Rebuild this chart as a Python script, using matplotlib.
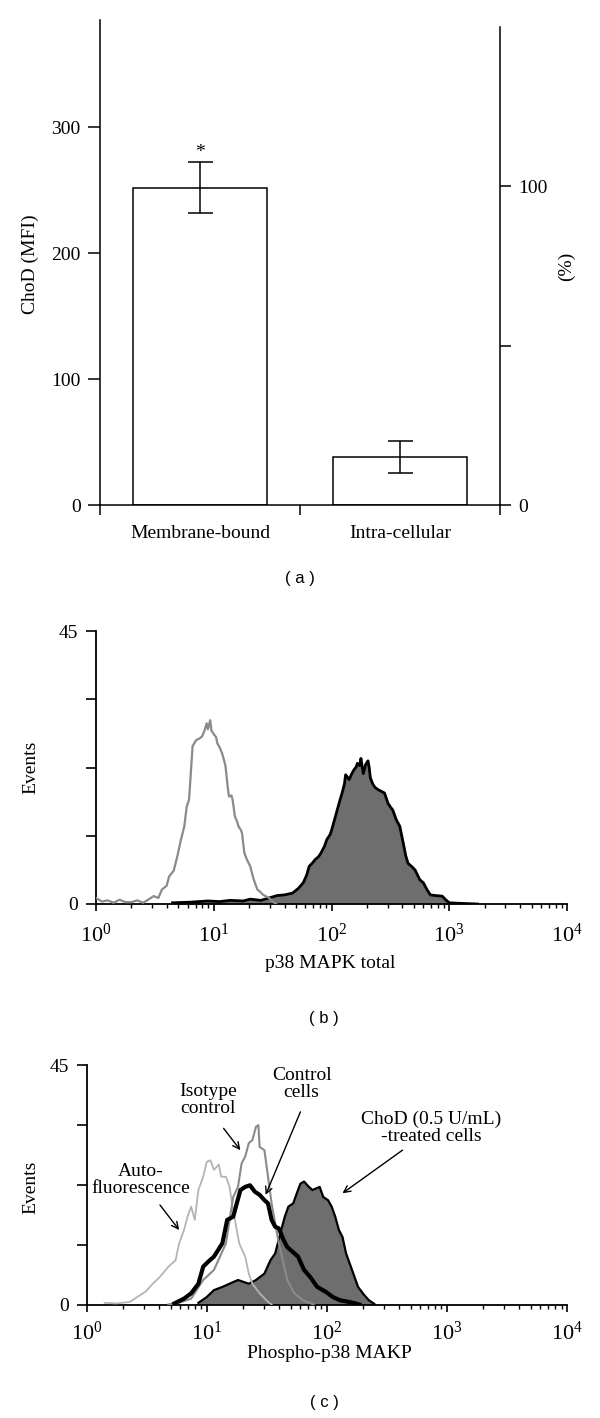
import numpy as np
import matplotlib
matplotlib.use("Agg")
import matplotlib.pyplot as plt

plt.rcParams['font.family'] = ['Liberation Serif', 'DejaVu Serif']
plt.rcParams['mathtext.fontset'] = 'stix'

# ---------------- Panel (a) data ----------------
categories = ["Membrane-bound", "Intra-cellular"]
mfi_values = [252, 38.5]
mfi_errors = [20, 13]
left_ticks = [0, 100, 200, 300]
right_ticks = [0, 50, 100]
right_ticklabels = ["0", "", "100"]

# ---------------- Panel (b) data (log10 intensity, events) ----------------
b_iso_logx = [0.00, 0.05, 0.10, 0.15, 0.20, 0.25, 0.30, 0.35, 0.40, 0.45, 0.49, 0.53, 0.56, 0.60, 0.62, 0.66,
              0.69, 0.72, 0.75, 0.77, 0.79, 0.80, 0.82, 0.85, 0.88, 0.90, 0.92, 0.94, 0.95, 0.97, 0.98, 1.00,
              1.02, 1.03, 1.05, 1.07, 1.09, 1.10, 1.12, 1.13, 1.15, 1.16, 1.18, 1.20, 1.21, 1.23, 1.24, 1.26,
              1.28, 1.31, 1.34, 1.37, 1.40, 1.42, 1.45, 1.47, 1.50, 1.53]
b_iso_y = [1.0, 0.4, 0.6, 0.2, 0.7, 0.3, 0.3, 0.6, 0.2, 0.8, 1.3, 1.0, 2.4, 3.0, 4.5, 5.5,
           7.8, 10.5, 12.8, 16.0, 17.2, 20.0, 26.0, 27.0, 27.3, 27.6, 28.5, 29.8, 28.8, 30.3, 28.6, 28.0,
           27.5, 26.5, 25.8, 24.9, 23.5, 22.7, 19.0, 17.7, 17.9, 17.2, 14.4, 13.5, 12.8, 12.2, 11.7, 8.4,
           7.4, 6.2, 4.0, 2.4, 1.9, 1.5, 1.2, 1.0, 0.4, 0.0]

b_treat_logx = [0.65, 0.80, 0.95, 1.05, 1.14, 1.25, 1.31, 1.40, 1.47, 1.54, 1.60, 1.67, 1.72, 1.76, 1.79, 1.81,
                1.84, 1.86, 1.89, 1.91, 1.94, 1.96, 1.99, 2.01, 2.03, 2.05, 2.07, 2.09, 2.11, 2.12, 2.14, 2.15,
                2.17, 2.19, 2.21, 2.22, 2.24, 2.25, 2.27, 2.29, 2.31, 2.32, 2.33, 2.35, 2.37, 2.40, 2.43, 2.45,
                2.48, 2.50, 2.52, 2.55, 2.58, 2.61, 2.63, 2.65, 2.68, 2.71, 2.75, 2.78, 2.81, 2.84, 2.88, 2.94,
                2.97, 3.00, 3.10, 3.24]
b_treat_y = [0.2, 0.3, 0.5, 0.4, 0.6, 0.5, 0.8, 0.6, 1.0, 1.4, 1.5, 1.8, 2.6, 3.5, 4.8, 6.2,
             6.8, 7.3, 7.8, 8.4, 9.5, 10.6, 11.5, 12.8, 14.2, 15.6, 17.0, 18.3, 19.8, 21.3, 20.8, 20.5,
             21.4, 22.1, 22.6, 23.2, 22.8, 24.0, 21.5, 23.0, 23.6, 22.5, 20.8, 19.8, 19.2, 18.8, 18.5, 18.3,
             16.6, 16.0, 15.5, 13.9, 12.8, 10.0, 8.0, 6.7, 6.2, 5.6, 4.0, 3.5, 2.4, 1.5, 1.4, 1.3,
             0.7, 0.2, 0.1, 0.0]

# ---------------- Panel (c) data (log10 intensity, events) ----------------
c_auto_logx = [0.15, 0.25, 0.36, 0.42, 0.49, 0.55, 0.61, 0.68, 0.74, 0.77, 0.81, 0.84, 0.87, 0.90, 0.93, 0.97,
               1.00, 1.03, 1.06, 1.10, 1.12, 1.16, 1.19, 1.21, 1.24, 1.27, 1.32, 1.35, 1.38, 1.44, 1.51, 1.54]
c_auto_y = [0.3, 0.2, 0.5, 1.4, 2.4, 3.9, 5.2, 7.1, 8.3, 11.5, 14.0, 16.5, 18.4, 15.9, 21.5, 24.0,
            26.8, 27.1, 25.3, 26.3, 24.0, 24.0, 22.1, 19.0, 15.2, 11.5, 9.0, 5.8, 3.9, 2.1, 0.5, 0.0]

c_iso_logx = [0.68, 0.78, 0.87, 0.97, 1.06, 1.16, 1.22, 1.26, 1.29, 1.32, 1.35, 1.38, 1.41, 1.43, 1.44, 1.48,
              1.51, 1.54, 1.57, 1.60, 1.64, 1.67, 1.73, 1.80, 1.89]
c_iso_y = [0.0, 0.4, 1.1, 4.6, 6.5, 11.5, 20.2, 22.1, 26.5, 27.8, 30.3, 30.9, 33.4, 33.7, 29.6, 29.0,
           24.0, 19.0, 15.2, 11.5, 7.7, 4.6, 2.1, 0.8, 0.0]

c_ctrl_logx = [0.73, 0.81, 0.87, 0.93, 0.97, 1.01, 1.06, 1.13, 1.17, 1.22, 1.25, 1.28, 1.32, 1.36, 1.40, 1.44,
               1.48, 1.51, 1.54, 1.57, 1.60, 1.64, 1.67, 1.70, 1.76, 1.81, 1.86, 1.92, 1.99, 2.05, 2.11, 2.18,
               2.24, 2.27]
c_ctrl_y = [0.2, 1.1, 2.1, 3.9, 7.1, 8.0, 9.0, 11.5, 15.9, 16.5, 19.0, 21.5, 22.1, 22.4, 21.2, 20.6,
            19.6, 19.0, 15.9, 14.6, 14.3, 12.1, 10.8, 10.2, 9.0, 6.5, 5.2, 3.3, 2.4, 1.4, 0.8, 0.5,
            0.2, 0.0]

c_treat_logx = [0.93, 1.00, 1.06, 1.13, 1.19, 1.26, 1.35, 1.41, 1.48, 1.53, 1.57, 1.62, 1.65, 1.68, 1.72, 1.75,
                1.78, 1.81, 1.85, 1.88, 1.91, 1.94, 1.97, 2.01, 2.04, 2.07, 2.10, 2.13, 2.16, 2.20, 2.23, 2.26,
                2.31, 2.35, 2.39, 2.40]
c_treat_y = [0.3, 1.4, 2.7, 3.3, 3.9, 4.6, 3.9, 4.6, 5.8, 8.3, 9.6, 14.0, 16.5, 18.4, 19.0, 20.9,
             22.7, 23.1, 22.1, 21.5, 21.8, 22.1, 20.2, 19.6, 18.4, 16.5, 14.0, 12.7, 9.6, 7.1, 5.2, 3.3,
             1.8, 0.8, 0.2, 0.0]

# annotation labels (panel c): text, text centre (log10 x, y), arrow start, arrow tip
c_labels = ["Isotype\ncontrol", "Control\ncells", "ChoD (0.5 U/mL)\n-treated cells", "Auto-\nfluorescence"]
c_label_pos = [(1.01, 38.4), (1.79, 41.5), (2.87, 33.1), (0.45, 23.4)]
c_arrow_from = [(1.14, 33.1), (1.78, 36.2), (2.63, 29.0), (0.61, 18.7)]
c_arrow_to = [(1.28, 29.0), (1.49, 20.6), (2.13, 20.9), (0.77, 14.0)]

hist_yticks = [0, 11.25, 22.5, 33.75, 45]
hist_yticklabels = ["0", "", "", "", "45"]
decades = [1, 10, 100, 1000, 10000]

H = 1418.0
fig = plt.figure(figsize=(6.0, 14.18), dpi=100)
SANS = ['Liberation Sans', 'DejaVu Sans']

# ================= Panel (a) =================
axa = fig.add_axes([100 / 600, 1 - 505.5 / H, 400 / 600, (505.5 - 20) / H])
xpos = np.arange(len(categories)) + 0.5
axa.bar(xpos, mfi_values, width=0.667, color='white', edgecolor='black', linewidth=1.1, zorder=2)
axa.errorbar(xpos, mfi_values, yerr=mfi_errors, fmt='none', ecolor='black', elinewidth=1.1,
             capsize=9, capthick=1.1, zorder=3)
axa.text(xpos[0], mfi_values[0] + mfi_errors[0] + 1, "*", ha='center', va='bottom', fontsize=14)
axa.set_xlim(0, 2)
axa.set_ylim(0, 385)
axa.spines['top'].set_visible(False)
axa.spines['right'].set_visible(False)
for s in ['left', 'bottom']:
    axa.spines[s].set_linewidth(1.1)
axa.set_yticks(left_ticks)
axa.tick_params(axis='y', direction='out', length=9, width=1.1, labelsize=14, pad=5)
axa.set_xticks([0, 1, 2])
axa.set_xticklabels(["", "", ""])
axa.set_xticks(xpos, minor=True)
axa.set_xticklabels(categories, minor=True)
axa.tick_params(axis='x', which='major', direction='out', length=7.5, width=1.1)
axa.tick_params(axis='x', which='minor', length=0, labelsize=14, pad=14)
fig.text(30 / 600, 1 - 264 / H, "ChoD (MFI)", rotation=90, ha='center', va='center', fontsize=14)

axr = axa.twinx()
axr.set_ylim(0, 385 / 2.53)
axr.spines['top'].set_visible(False)
axr.spines['left'].set_visible(False)
axr.spines['bottom'].set_visible(False)
axr.spines['right'].set_linewidth(1.1)
axr.spines['right'].set_bounds(0, 150)
axr.set_yticks(right_ticks)
axr.set_yticklabels(right_ticklabels)
axr.tick_params(axis='y', direction='out', length=8, width=1.1, labelsize=14, pad=5)
fig.text(566 / 600, 1 - 266 / H, "(%)", rotation=90, ha='center', va='center', fontsize=14)

fig.text(300 / 600, 1 - 578 / H, "( a )", ha='center', va='center', fontsize=12, family=SANS)


def style_hist(ax, xpad):
    ax.set_xscale('log')
    ax.set_xlim(1, 10000)
    ax.set_ylim(0, 45)
    ax.spines['top'].set_visible(False)
    ax.spines['right'].set_visible(False)
    ax.spines['left'].set_linewidth(1.3)
    ax.spines['bottom'].set_linewidth(1.3)
    ax.set_yticks(hist_yticks)
    ax.set_yticklabels(hist_yticklabels)
    ax.set_xticks(decades)
    ax.xaxis.set_major_formatter(matplotlib.ticker.LogFormatterMathtext())
    ax.xaxis.set_minor_locator(matplotlib.ticker.LogLocator(base=10, subs=np.arange(2, 10)))
    ax.xaxis.set_minor_formatter(matplotlib.ticker.NullFormatter())
    ax.tick_params(axis='y', direction='out', length=7, width=1.2, labelsize=14, pad=6)
    ax.tick_params(axis='x', which='major', direction='out', length=5, width=1.2, labelsize=16, pad=xpad)
    ax.tick_params(axis='x', which='minor', direction='out', length=3, width=1.0)


# ================= Panel (b) =================
axb = fig.add_axes([96 / 600, 1 - 904 / H, (567 - 96) / 600, (904 - 631) / H])
style_hist(axb, 9)
bx = 10 ** np.array(b_treat_logx)
axb.fill_between(bx, b_treat_y, 0, color='#6e6e6e', linewidth=0, zorder=2)
axb.plot(bx, b_treat_y, color='black', linewidth=2.0, zorder=3)
axb.plot(10 ** np.array(b_iso_logx), b_iso_y, color='#8a8a8a', linewidth=1.6, zorder=4)
fig.text(31 / 600, 1 - 767 / H, "Events", rotation=90, ha='center', va='center', fontsize=14)
fig.text(330 / 600, 1 - 963 / H, "p38 MAPK total", ha='center', va='center', fontsize=14)
fig.text(324 / 600, 1 - 1018 / H, "( b )", ha='center', va='center', fontsize=12, family=SANS)

# ================= Panel (c) =================
axc = fig.add_axes([86.7 / 600, 1 - 1304.5 / H, (567 - 86.7) / 600, (1304.5 - 1065) / H])
style_hist(axc, 7)
cx = 10 ** np.array(c_treat_logx)
axc.fill_between(cx, c_treat_y, 0, color='#6e6e6e', linewidth=0, zorder=2)
axc.plot(cx, c_treat_y, color='black', linewidth=1.6, zorder=3)
axc.plot(10 ** np.array(c_auto_logx), c_auto_y, color='#b4b4b4', linewidth=1.3, zorder=4)
axc.plot(10 ** np.array(c_iso_logx), c_iso_y, color='#8a8a8a', linewidth=1.5, zorder=4)
axc.plot(10 ** np.array(c_ctrl_logx), c_ctrl_y, color='black', linewidth=3.0, zorder=5)
fig.text(31 / 600, 1 - 1187 / H, "Events", rotation=90, ha='center', va='center', fontsize=14)
fig.text(329 / 600, 1 - 1353 / H, "Phospho-p38 MAKP", ha='center', va='center', fontsize=14)

for lab, (tx, ty), (ax0, ay0), (ax1, ay1) in zip(c_labels, c_label_pos, c_arrow_from, c_arrow_to):
    axc.text(10 ** tx, ty, lab, ha='center', va='center', fontsize=14, linespacing=1.0, zorder=6)
    axc.annotate("", xy=(10 ** ax1, ay1), xytext=(10 ** ax0, ay0),
                 arrowprops=dict(arrowstyle='->', color='black', linewidth=1.0, mutation_scale=12,
                                 shrinkA=0, shrinkB=0), zorder=6)

fig.text(324 / 600, 1 - 1403 / H, "( c )", ha='center', va='center', fontsize=12, family=SANS)

fig.savefig("out.png", dpi=100)
